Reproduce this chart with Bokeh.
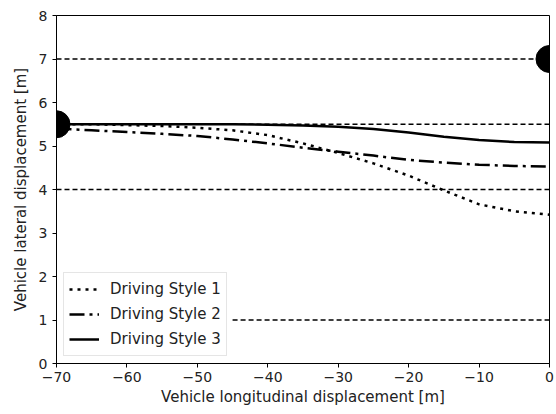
from bokeh.plotting import figure
from bokeh.models import FixedTicker, Legend, LegendItem
from bokeh.embed import file_html
from bokeh.resources import INLINE

# Data
x_vals = [-70, -65, -60, -55, -50, -45, -40, -35, -30, -25, -20, -15, -10, -5, 0]
style1 = [5.50, 5.50, 5.48, 5.46, 5.42, 5.36, 5.25, 5.06, 4.84, 4.60, 4.32, 3.98, 3.66, 3.50, 3.42]
style2 = [5.40, 5.36, 5.32, 5.28, 5.23, 5.15, 5.06, 4.96, 4.87, 4.78, 4.68, 4.62, 4.57, 4.54, 4.53]
style3 = [5.50, 5.50, 5.50, 5.50, 5.50, 5.50, 5.49, 5.47, 5.44, 5.39, 5.31, 5.21, 5.14, 5.09, 5.08]

lane_y = [7, 5.5, 4, 1]
lane_x_start = [-70, -70, -70, -45]
lane_x_end = [0, 0, 0, 0]

start_pt = (-70, 5.5)
target_pt = (0, 7)

x_ticks = [-70, -60, -50, -40, -30, -20, -10, 0]
x_tick_labels = ["\u221270", "\u221260", "\u221250", "\u221240", "\u221230", "\u221220", "\u221210", "0"]
y_ticks = [0, 1, 2, 3, 4, 5, 6, 7, 8]

series_names = ["Driving Style 1", "Driving Style 2", "Driving Style 3"]

FONT = "DejaVu Sans"

p = figure(width=556, height=414, output_backend="svg", toolbar_location=None,
           x_range=(-70, 0), y_range=(0, 8),
           min_border_left=56, min_border_right=7, min_border_top=15, min_border_bottom=51)
p.grid.visible = False
p.outline_line_color = "black"
p.outline_line_width = 1
p.background_fill_color = "white"
p.border_fill_color = "white"

for ax in (p.xaxis[0], p.yaxis[0]):
    ax.axis_line_color = "black"
    ax.major_tick_line_color = "black"
    ax.major_tick_out = 4
    ax.major_tick_in = 0
    ax.minor_tick_line_color = None
    ax.major_label_text_font = FONT
    ax.major_label_text_font_size = "14px"
    ax.major_label_text_color = "#222222"
    ax.axis_label_text_font = FONT
    ax.axis_label_text_font_size = "15px"
    ax.axis_label_text_font_style = "normal"
    ax.axis_label_text_color = "#222222"

p.xaxis.ticker = FixedTicker(ticks=x_ticks)
p.xaxis.major_label_overrides = {t: l for t, l in zip(x_ticks, x_tick_labels)}
p.yaxis.ticker = FixedTicker(ticks=y_ticks)
p.xaxis.axis_label = "Vehicle longitudinal displacement [m]"
p.yaxis.axis_label = "Vehicle lateral displacement [m]"
p.xaxis.axis_label_standoff = 3
p.yaxis.axis_label_standoff = 6
p.xaxis.major_label_standoff = 4

# lane markings
for y, xs, xe in zip(lane_y, lane_x_start, lane_x_end):
    p.line([xs, xe], [y, y], line_color="black", line_width=1.3, line_dash="5 3")

r1 = p.line(x_vals, style1, line_color="black", line_width=2.5, line_dash="3 5")
r2 = p.line(x_vals, style2, line_color="black", line_width=2.5, line_dash="15 5 3 5")
r3 = p.line(x_vals, style3, line_color="black", line_width=2.5)

# start / target markers
p.scatter([start_pt[0], target_pt[0]], [start_pt[1], target_pt[1]], size=27,
          fill_color="black", line_color="black")

# white masks so the markers look clipped at the frame edge (axes drawn on top)
p.block(x=[start_pt[0] - 2.5], y=[start_pt[1] - 0.4], width=2.5, height=0.8,
        fill_color="white", line_color=None)
p.block(x=[target_pt[0]], y=[target_pt[1] - 0.4], width=2.5, height=0.8,
        fill_color="white", line_color=None)

legend = Legend(items=[LegendItem(label=n, renderers=[r]) for n, r in zip(series_names, [r1, r2, r3])],
                location="bottom_left")
legend.margin = 7
legend.padding = 5
legend.spacing = 3
legend.glyph_width = 30
legend.glyph_height = 22
legend.label_standoff = 11
legend.label_text_font = FONT
legend.label_text_font_size = "15px"
legend.label_text_color = "#222222"
legend.border_line_color = "#cccccc"
legend.border_line_width = 1
legend.background_fill_alpha = 0.8
p.add_layout(legend)

open("out.html", "w").write(file_html(p, INLINE))
